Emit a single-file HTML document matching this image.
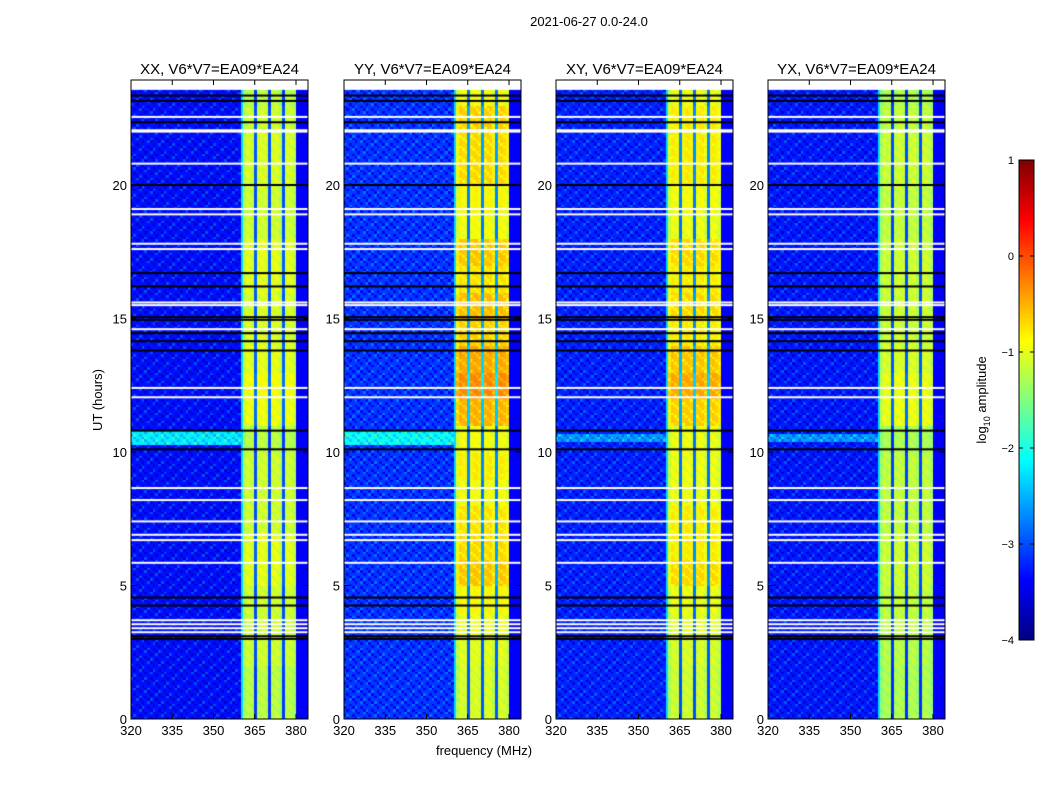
<!DOCTYPE html>
<html><head><meta charset="utf-8">
<style>
body{margin:0;background:#fff;font-family:"Liberation Sans",sans-serif;}
#wrap{position:relative;width:1050px;height:800px;overflow:hidden;}
canvas{position:absolute;}
svg{position:absolute;left:0;top:0;}
</style></head>
<body>
<div id="wrap">
<svg id="ov" width="1050" height="800"></svg>
</div>
<script>
// ---- data ----
const panelTitles = ["XX, V6*V7=EA09*EA24","YY, V6*V7=EA09*EA24","XY, V6*V7=EA09*EA24","YX, V6*V7=EA09*EA24"];
const xTicks = [320,335,350,365,380];
const yTicks = [0,5,10,15,20];
const cbTicks = [1,0,-1,-2,-3,-4];
const bandChannels = [361,362,363,364,365,366,367,368,369,370,371,372,373,374,375,376,377,378,379];
const bandOffsets  = [-0.15,0.05,0,0,-1.9,0,0.05,0.05,0,-1.9,0,0.05,0.05,-0.1,-1.9,0,0.05,0,-0.1];
const bgLevel = [-3.3,-3.1,-3.2,-3.25];
const rightLevel = -3.4;
const bandXX = [-1.2,-1.2,-1.1,-1.1,-1.1,-1.0,-1.0,-1.1,-1.1,-1.1,-1.2,-0.95,-0.9,-1.0,-1.05,-1.05,-1.0,-1.0,-1.1,-1.1,-1.05,-1.05,-1.1,-1.2];
const bandYY = [-1.05,-1.05,-1.0,-0.95,-0.85,-0.6,-0.7,-0.75,-0.9,-0.8,-0.9,-0.5,-0.3,-0.45,-0.65,-0.55,-0.75,-0.6,-0.9,-0.85,-0.7,-0.7,-0.65,-0.9];
const bandXY = [-1.1,-1.1,-1.05,-1.0,-0.95,-0.7,-0.8,-0.8,-0.95,-0.95,-0.95,-0.65,-0.45,-0.6,-0.8,-0.7,-0.8,-0.7,-0.95,-0.9,-0.8,-0.8,-0.8,-0.95];
const bandYX = [-1.25,-1.25,-1.2,-1.15,-1.15,-1.1,-1.1,-1.15,-1.15,-1.15,-1.25,-0.95,-0.95,-1.05,-1.1,-1.1,-1.1,-1.1,-1.15,-1.15,-1.1,-1.1,-1.15,-1.25];
const bandLevels = [bandXX,bandYY,bandXY,bandYX];
const cyanStart = [10.3,10.3,10.35,10.35];
const cyanEnd = [10.75,10.75,10.7,10.7];
const cyanLevel = [-2.2,-2.1,-2.6,-2.6];
const whiteRows = [22.55,22.05,22.0,20.8,19.1,18.9,17.8,17.6,15.6,15.5,14.6,12.4,12.05,8.65,8.2,7.4,6.9,6.7,5.85,3.7,3.55,3.4,3.25,23.6,23.7,23.8,23.9];
const blackRows = [23.35,23.15,22.35,20.0,16.7,16.2,15.05,14.95,14.45,14.15,13.8,10.8,10.1,4.55,4.25,3.1,3.0];
const dataTop = 23.6;

// ---- layout ----
const lefts = [131,344,556,768];
const W = 177, TOP = 80, BOT = 719;
const pxPerMHz = 2.75, pxPerHour = 26.7;
const xs = (L,f)=>L+(f-320)*pxPerMHz;
const ys = h=>BOT-h*pxPerHour;
function jet(v){
  let t=(v+4)/5; t=Math.max(0,Math.min(1,t));
  const c=x=>Math.round(255*Math.max(0,Math.min(1,x)));
  return `rgb(${c(1.5-Math.abs(4*t-3))},${c(1.5-Math.abs(4*t-2))},${c(1.5-Math.abs(4*t-1))})`;
}
const wrap=document.getElementById('wrap');
const NS='http://www.w3.org/2000/svg';
const ov=document.getElementById('ov');
function st(tag,attrs,text){const e=document.createElementNS(NS,tag);for(const k in attrs)e.setAttribute(k,attrs[k]);if(text!==undefined)e.textContent=text;ov.appendChild(e);return e;}

lefts.forEach((L,p)=>{
  const cv=document.createElement('canvas');
  cv.width=W;cv.height=BOT-TOP;cv.style.left=L+'px';cv.style.top=TOP+'px';
  
  
  wrap.insertBefore(cv,ov);
  const ctx=cv.getContext('2d');
  ctx.fillStyle='#fff';ctx.fillRect(0,0,W,BOT-TOP);
  const nRows=Math.round(dataTop*10);
  for(let r=0;r<nRows;r++){
    const h=r/10;
    const y0=ys(h+0.1)-TOP, y1=ys(h)-TOP;
    for(let ch=320;ch<385;ch++){
      let v;
      const bi=bandChannels.indexOf(ch);
      if(bi>=0){ v=bandLevels[p][Math.floor(h)]+bandOffsets[bi]; if(bandOffsets[bi]>-1 && ((ch+r)%4===0)) v-=0.2; }
      else if(ch===360) v=-2.3;
      else if(ch>=380) v=rightLevel;
      else { v=bgLevel[p]; if(h>=cyanStart[p]&&h<cyanEnd[p]) v=cyanLevel[p]; }
      if(bi<0 && ch<360 && ((ch+r)%3===0)) v-=0.3;
      if(bi<0 && ch<360 && ((ch*7+r*3)%5===0)) v+=0.3;
      ctx.fillStyle=jet(v);
      const x0=(ch-320)*pxPerMHz;
      ctx.fillRect(Math.floor(x0),Math.floor(y0),Math.ceil(pxPerMHz),Math.ceil(y1-y0)+1);
    }
  }
  whiteRows.forEach(h=>{ctx.fillStyle='#fff';ctx.fillRect(0,ys(h)-TOP-1,W,2);});
  blackRows.forEach(h=>{ctx.fillStyle='#000';ctx.fillRect(0,ys(h)-TOP-1,W,2);});
  ctx.fillStyle='#fff';ctx.fillRect(0,0,W,ys(dataTop)-TOP);

  st('rect',{x:L,y:TOP,width:W,height:BOT-TOP,fill:'none',stroke:'#000','stroke-width':1,});
  st('text',{x:L+W/2,y:TOP-6,'text-anchor':'middle','font-size':15,},panelTitles[p]);
  xTicks.forEach(t=>{const x=xs(L,t);
    st('line',{x1:x,y1:BOT,x2:x,y2:BOT-5,stroke:'#000'});st('line',{x1:x,y1:TOP,x2:x,y2:TOP+5,stroke:'#000'});
    st('text',{x:x,y:BOT+16,'text-anchor':'middle','font-size':13,},t);});
  yTicks.forEach(t=>{const y=ys(t);
    st('line',{x1:L,y1:y,x2:L+5,y2:y,stroke:'#000'});st('line',{x1:L+W,y1:y,x2:L+W-5,y2:y,stroke:'#000'});
    st('text',{x:L-4,y:y+5,'text-anchor':'end','font-size':13,},t);});
});
st('text',{x:589,y:26,'text-anchor':'middle','font-size':13,},'2021-06-27 0.0-24.0');
st('text',{x:484,y:755,'text-anchor':'middle','font-size':13,},'frequency (MHz)');
st('text',{x:0,y:0,'text-anchor':'middle','font-size':13,transform:'translate(102,400) rotate(-90)',},'UT (hours)');
const cbX=1019,cbW=15,cbT=160,cbB=640;
const cbs=v=>cbB-(v+4)/5*(cbB-cbT);
const cbc=document.createElement('canvas');cbc.width=cbW;cbc.height=cbB-cbT;cbc.style.left=cbX+'px';cbc.style.top=cbT+'px';


wrap.insertBefore(cbc,ov);
const cctx=cbc.getContext('2d');
for(let i=0;i<cbB-cbT;i++){cctx.fillStyle=jet(1-5*i/(cbB-cbT));cctx.fillRect(0,i,cbW,1);}
st('rect',{x:cbX,y:cbT,width:cbW,height:cbB-cbT,fill:'none',stroke:'#000'});
cbTicks.forEach(t=>{const y=cbs(t);
  st('line',{x1:cbX,y1:y,x2:cbX+4,y2:y,stroke:'#000'});st('line',{x1:cbX+cbW,y1:y,x2:cbX+cbW-4,y2:y,stroke:'#000'});
  st('text',{x:cbX-5,y:y+4,'text-anchor':'end','font-size':11,},t<0?'\u2212'+(-t):t);});
const lab=st('text',{x:0,y:0,'text-anchor':'middle','font-size':13,transform:'translate(986,400) rotate(-90)',},'log');
const sub=document.createElementNS(NS,'tspan');sub.setAttribute('font-size',9);sub.setAttribute('dy',4);sub.textContent='10';lab.appendChild(sub);
const rest=document.createElementNS(NS,'tspan');rest.setAttribute('dy',-4);rest.textContent=' amplitude';lab.appendChild(rest);
</script>
</body></html>
